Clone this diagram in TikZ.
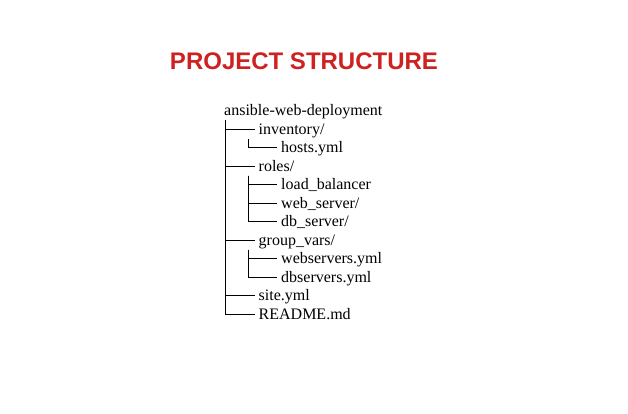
\documentclass[tikz,border=0pt]{standalone}
\usepackage{fontspec}
\usepackage{tikz}
\setmainfont{Liberation Serif}
\newfontfamily\titlefont{Liberation Sans}
\definecolor{titlered}{RGB}{204,34,34}

\tikzset{
	item/.style={anchor=base west, inner xsep=4pt, inner ysep=0pt, font=\fontsize{16pt}{18pt}\selectfont},
	branch/.style={line width=0.8pt, color=black},
}

\begin{document}
\begin{tikzpicture}[x=1pt,y=1pt,yscale=-1,xscale=1]
	\useasboundingbox (0,0) rectangle (628,414);

	% Title
	\node (title) at (304,70) [anchor=base, inner sep=0pt, text=titlered, font=\titlefont\bfseries\fontsize{24pt}{28pt}\selectfont] {PROJECT STRUCTURE};

	% Text Node
	\node (root) at (224,115.7) [item, inner xsep=0pt] {ansible-web-deployment};
	% Text Node
	\node (inv) at (254.5,134.2) [item] {inventory/};
	% Text Node
	\node (hosts) at (277,152.7) [item] {hosts.yml};
	% Text Node
	\node (roles) at (254.5,171.2) [item] {roles/};
	% Text Node
	\node (lb) at (277,189.7) [item] {load\_balancer};
	% Text Node
	\node (web) at (277,208.2) [item] {web\_server/};
	% Text Node
	\node (db) at (277,226.7) [item] {db\_server/};
	% Text Node
	\node (gvars) at (254.5,245.2) [item] {group\_vars/};
	% Text Node
	\node (websrv) at (277,263.7) [item] {webservers.yml};
	% Text Node
	\node (dbsrv) at (277,282.2) [item] {dbservers.yml};
	% Text Node
	\node (site) at (254.5,300.7) [item] {site.yml};
	% Text Node
	\node (readme) at (254.5,319.2) [item] {README.md};

	% Trunks
	\coordinate (t0) at (225,120.5);
	\coordinate (t1) at (248,139);
	\coordinate (t2) at (248,175.5);
	\coordinate (t3) at (248,249.5);

	% Branches
	\foreach \c in {inv,roles,gvars,site,readme}
		\draw [branch] (t0) |- ([yshift=-5pt]\c.base west);
	\draw [branch] (t1) |- ([yshift=-5pt]hosts.base west);
	\foreach \c in {lb,web,db}
		\draw [branch] (t2) |- ([yshift=-5pt]\c.base west);
	\foreach \c in {websrv,dbsrv}
		\draw [branch] (t3) |- ([yshift=-5pt]\c.base west);

\end{tikzpicture}
\end{document}
